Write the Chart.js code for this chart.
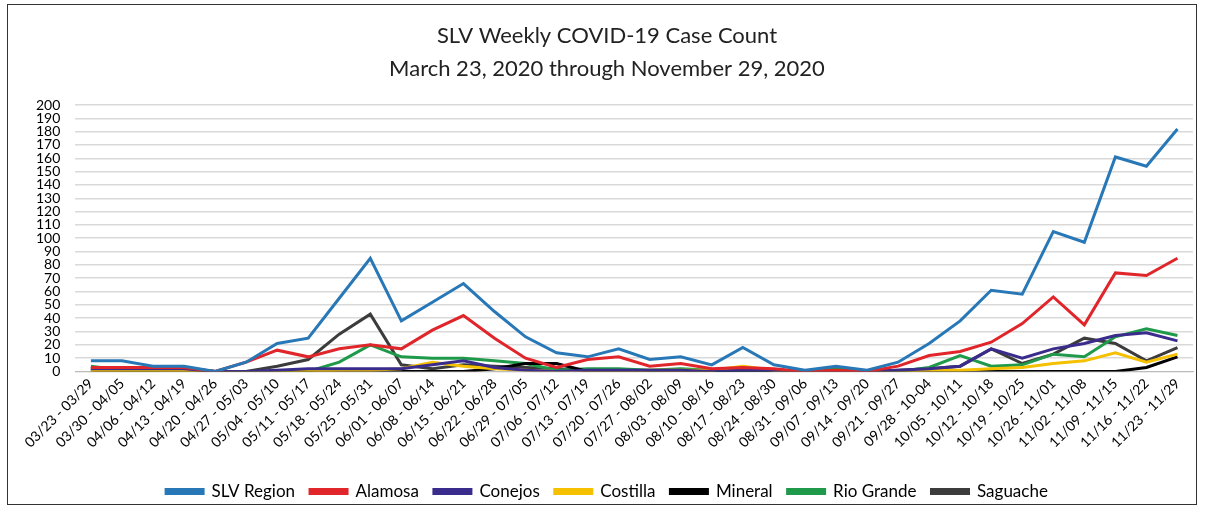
<!DOCTYPE html>
<html>
<head>
<meta charset="utf-8">
<script src="https://cdn.jsdelivr.net/npm/chart.js@4/dist/chart.umd.min.js"></script>
<style>
  html, body { margin: 0; padding: 0; background: #fff; }
  #frame { position: absolute; left: 7px; top: 4px; width: 1188px; height: 499px; border: 1px solid #333; background: #fff; }
</style>
</head>
<body>
<div id="frame"><canvas id="c"></canvas></div>
<script>
const weeks = ["03/23 - 03/29", "03/30 - 04/05", "04/06 - 04/12", "04/13 - 04/19", "04/20 - 04/26", "04/27 - 05/03", "05/04 - 05/10", "05/11 - 05/17", "05/18 - 05/24", "05/25 - 05/31", "06/01 - 06/07", "06/08 - 06/14", "06/15 - 06/21", "06/22 - 06/28", "06/29 - 07/05", "07/06 - 07/12", "07/13 - 07/19", "07/20 - 07/26", "07/27 - 08/02", "08/03 - 08/09", "08/10 - 08/16", "08/17 - 08/23", "08/24 - 08/30", "08/31 - 09/06", "09/07 - 09/13", "09/14 - 09/20", "09/21 - 09/27", "09/28 - 10-04", "10/05 - 10/11", "10/12 - 10/18", "10/19 - 10/25", "10/26 - 11/01", "11/02 - 11/08", "11/09 - 11/15", "11/16 - 11/22", "11/23 - 11/29"];

const slvRegion = [8,8,4,4,0,7,21,25,55,85,38,52,66,45,26,14,11,17,9,11,5,18,5,1,4,1,7,21,38,61,58,105,97,161,154,182];
const alamosa   = [3,3,3,3,0,7,16,11,17,20,17,31,42,25,10,3,9,11,4,6,2,3,2,0,1,0,4,12,15,22,36,56,35,74,72,85];
const conejos   = [2,2,2,2,0,0,1,2,2,2,2,5,8,3,1,0,1,1,1,1,0,1,1,0,0,0,1,2,4,17,10,17,21,27,29,23];
const costilla  = [0,0,0,0,0,0,0,0,1,1,2,7,4,2,1,0,0,0,1,1,1,4,1,0,0,0,0,1,1,2,3,6,8,14,7,13];
const mineral   = [1,0,0,0,0,0,0,0,0,0,0,0,0,2,6,6,0,0,0,0,0,0,0,0,0,0,0,0,0,0,0,0,0,0,3,11];
const rioGrande = [4,1,1,2,0,0,0,0,7,20,11,10,10,8,6,1,2,2,1,2,1,1,1,0,3,0,0,3,12,4,5,13,11,26,32,27];
const saguache  = [2,2,3,2,0,0,4,9,28,43,5,2,5,4,3,2,1,1,1,1,0,1,1,0,1,0,1,2,4,17,6,13,25,21,8,18];

const seriesNames = ["SLV Region", "Alamosa", "Conejos", "Costilla", "Mineral", "Rio Grande", "Saguache"];
const seriesData = [slvRegion, alamosa, conejos, costilla, mineral, rioGrande, saguache];
const seriesColors = ["#2878b8", "#e0262a", "#3a2c8c", "#f5c000", "#000000", "#1f9a4a", "#3c3c3c"];
const titleLines = ["SLV Weekly COVID-19 Case Count", "March 23, 2020 through November 29, 2020"];

const FONT = "Lato, 'Open Sans', sans-serif";

new Chart(document.getElementById('c'), {
  type: 'line',
  data: {
    labels: weeks,
    datasets: seriesNames.map((n, i) => ({
      label: n,
      data: seriesData[i],
      borderColor: seriesColors[i],
      backgroundColor: seriesColors[i],
      borderWidth: 3,
      pointRadius: 0,
      tension: 0
    }))
  },
  options: {
    responsive: true,
    maintainAspectRatio: false,
    animation: false,
    layout: { padding: { left: 13, right: 3, top: 10, bottom: -6 } },
    plugins: {
      title: {
        display: true,
        text: titleLines,
        color: '#222',
        font: { family: FONT, size: 22, weight: 'normal', lineHeight: 1.5 },
        padding: { top: 4, bottom: 20 }
      },
      legend: {
        position: 'bottom',
        labels: {
          boxWidth: 37,
          boxHeight: 4,
          color: '#000',
          padding: 15,
          font: { family: FONT, size: 17 }
        }
      },
      tooltip: { enabled: false }
    },
    scales: {
      x: {
        offset: true,
        afterFit: (scale) => { scale.height += 13; },
        grid: { display: false, drawTicks: false },
        border: { display: true, color: '#bbb', width: 1 },
        ticks: {
          color: '#000',
          font: { family: FONT, size: 14 },
          minRotation: 45,
          maxRotation: 45,
          autoSkip: false,
          padding: 4
        }
      },
      y: {
        min: 0,
        max: 200,
        grid: { color: '#d9d9d9', lineWidth: 1.5, drawTicks: false },
        border: { display: false },
        ticks: {
          stepSize: 10,
          autoSkip: false,
          color: '#000',
          font: { family: FONT, size: 14 },
          padding: 15
        }
      }
    }
  }
});
</script>
</body>
</html>
